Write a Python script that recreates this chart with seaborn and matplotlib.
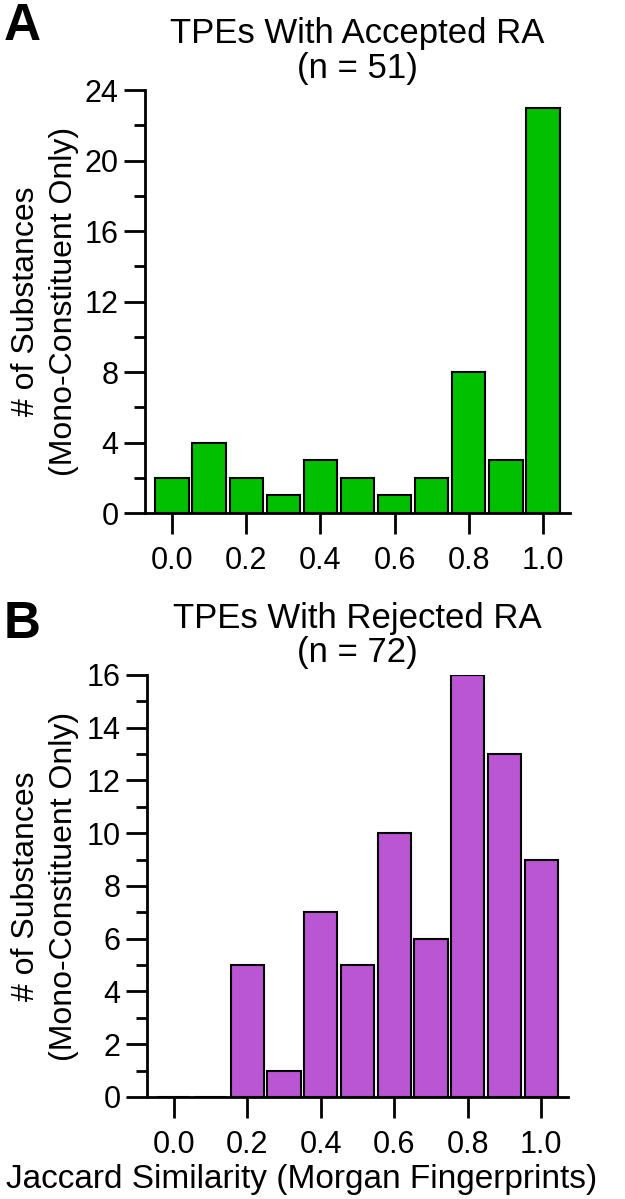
import matplotlib
matplotlib.use("Agg")
import matplotlib.pyplot as plt
import seaborn as sns
import pandas as pd
from matplotlib.ticker import MultipleLocator

sns.set_style("ticks")
plt.rcParams['font.family'] = ['Liberation Sans', 'DejaVu Sans']
plt.rcParams.update({'text.color': 'black', 'axes.labelcolor': 'black',
                     'xtick.color': 'black', 'ytick.color': 'black',
                     'axes.edgecolor': 'black'})

# Jaccard similarity bins (Morgan fingerprints)
bins = [0.0, 0.1, 0.2, 0.3, 0.4, 0.5, 0.6, 0.7, 0.8, 0.9, 1.0]
accepted_counts = [2, 4, 2, 1, 3, 2, 1, 2, 8, 3, 23]
rejected_counts = [0, 0, 5, 1, 7, 5, 10, 6, 16, 13, 9]
xtick_vals = [0.0, 0.2, 0.4, 0.6, 0.8, 1.0]
xtick_labels = ['0.0', '0.2', '0.4', '0.6', '0.8', '1.0']

green = '#00C000'
purple = '#BA55D3'

fig = plt.figure(figsize=(6.25, 11.99), dpi=100)
ax_a = fig.add_axes([0.232, 0.5721, 0.68, 0.3528])
ax_b = fig.add_axes([0.235, 0.0851, 0.674, 0.352])


def draw_panel(ax, counts, color, ymax, major, minor, title, lab_x):
    df = pd.DataFrame({'bin': bins, 'count': counts})
    sns.barplot(data=df, x='bin', y='count', native_scale=True, width=0.9,
                color=color, edgecolor='black', linewidth=1.5, saturation=1,
                ax=ax)
    ax.set_xlim(-0.073, 1.073)
    ax.set_ylim(0, ymax)
    ax.set_xticks(xtick_vals)
    ax.set_xticklabels(xtick_labels)
    ax.yaxis.set_major_locator(MultipleLocator(major))
    ax.yaxis.set_minor_locator(MultipleLocator(minor))
    sns.despine(ax=ax)
    for s in ['left', 'bottom']:
        ax.spines[s].set_linewidth(2)
    ax.tick_params(axis='both', which='major', direction='out', length=15,
                   width=2, labelsize=22, pad=4)
    ax.tick_params(axis='y', which='minor', direction='out', length=8, width=2)
    ax.tick_params(axis='x', which='major', pad=9)
    ax.set_title(title, fontsize=25, pad=9, linespacing=1.05)
    ax.set_ylabel('# of Substances\n(Mono-Constituent Only)', fontsize=23,
                  linespacing=1.35)
    ax.yaxis.set_label_coords(lab_x, 0.5)
    ax.set_xlabel('')


draw_panel(ax_a, accepted_counts, green, 24, 4, 2,
           'TPEs With Accepted RA\n(n = 51)', -0.156)
draw_panel(ax_b, rejected_counts, purple, 16, 2, 1,
           'TPEs With Rejected RA\n(n = 72)', -0.162)

ax_b.set_xlabel('Jaccard Similarity (Morgan Fingerprints)', fontsize=24)
ax_b.xaxis.set_label_coords(0.368, -0.16)

fig.text(0.006, 0.998, 'A', fontsize=37, fontweight='bold', va='top', ha='left')
fig.text(0.006, 0.5, 'B', fontsize=37, fontweight='bold', va='top', ha='left')

fig.savefig('out.png', dpi=100)
